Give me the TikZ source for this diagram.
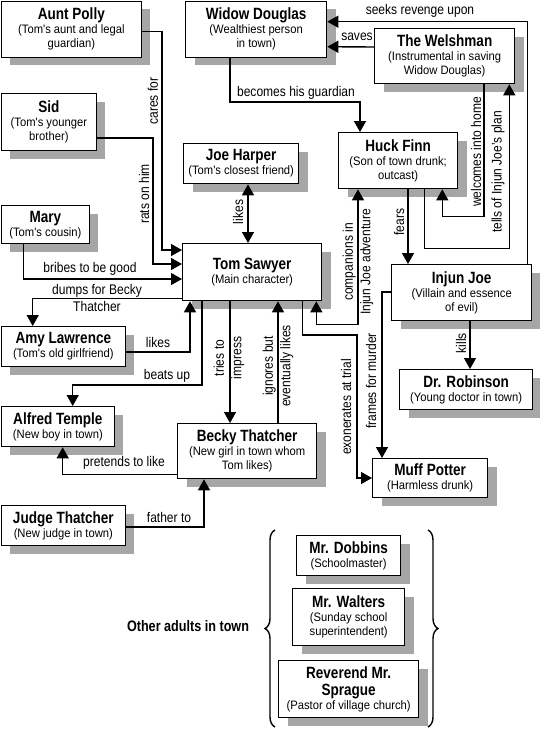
\documentclass[tikz,border=0pt]{standalone}
\usepackage{fontspec}
\setmainfont{Liberation Sans}[FakeStretch=0.86]
\newfontfamily\namefont{Liberation Sans}[FakeStretch=0.83]
\newfontfamily\notefont{Liberation Sans}[FakeStretch=0.92]
\usetikzlibrary{calc,arrows.meta,shadows,decorations.pathreplacing}

\newcommand{\who}[1]{{\namefont\fontsize{16.3}{18}\selectfont\bfseries #1}}

\tikzset{
  person/.style={draw, rectangle, line width=1.3pt, fill=white, anchor=north west, align=center,
    inner sep=2pt, font=\notefont\fontsize{12.2}{14}\selectfont,
    drop shadow={shadow xshift=9pt, shadow yshift=-8pt, fill=black!35, opacity=1}},
  rel/.style={font=\fontsize{14}{17.5}\selectfont, align=center, inner sep=0pt},
  vrel/.style={rel, rotate=90},
}

\begin{document}
\begin{tikzpicture}[x=1pt, y=-1pt, line width=1.4pt, >={Triangle[length=11pt,width=12pt]}]
\useasboundingbox (0,0) rectangle (540,729);

\node[person, minimum width=140pt, minimum height=56pt] (polly) at (0.7,0.7) {\who{Aunt Polly}\\(Tom's aunt and legal\\guardian)};
\node[person, minimum width=141pt, minimum height=56pt] (widow) at (185,0.7) {\who{Widow Douglas}\\(Wealthiest person\\in town)};
\node[person, minimum width=140pt, minimum height=55pt] (welsh) at (374,28) {\who{The Welshman}\\(Instrumental in saving\\Widow Douglas)};
\node[person, minimum width=95pt, minimum height=57pt] (sid) at (0.7,93) {\who{Sid}\\(Tom's younger\\brother)};
\node[person, minimum width=115pt, minimum height=40pt] (joe) at (183,143) {\who{Joe Harper}\\(Tom's closest friend)};
\node[person, minimum width=119pt, minimum height=56pt] (huck) at (338,132) {\who{Huck Finn}\\(Son of town drunk;\\outcast)};
\node[person, minimum width=88pt, minimum height=38pt] (mary) at (0.7,205) {\who{Mary}\\(Tom's cousin)};
\node[person, minimum width=139pt, minimum height=57pt] (tom) at (182,243) {\who{Tom Sawyer}\\(Main character)};
\node[person, minimum width=140pt, minimum height=56pt] (injun) at (391,264) {\who{Injun Joe}\\(Villain and essence\\of evil)};
\node[person, minimum width=124pt, minimum height=40pt] (amy) at (0.7,326) {\who{Amy Lawrence}\\(Tom's old girlfriend)};
\node[person, minimum width=133pt, minimum height=40pt] (robinson) at (399,369) {\who{Dr. Robinson}\\(Young doctor in town)};
\node[person, minimum width=113pt, minimum height=40pt] (alfred) at (0.7,406) {\who{Alfred Temple}\\(New boy in town)};
\node[person, minimum width=139pt, minimum height=55pt] (becky) at (177,423) {\who{Becky Thatcher}\\(New girl in town whom\\Tom likes)};
\node[person, minimum width=115pt, minimum height=39pt] (muff) at (372,458) {\who{Muff Potter}\\(Harmless drunk)};
\node[person, minimum width=124pt, minimum height=40pt] (judge) at (0.7,505) {\who{Judge Thatcher}\\(New judge in town)};
\node[person, minimum width=104pt, minimum height=40pt] (dobbins) at (296,535) {\who{Mr. Dobbins}\\(Schoolmaster)};
\node[person, minimum width=112pt, minimum height=57pt] (walters) at (292,588) {\who{Mr. Walters}\\(Sunday school\\superintendent)};
\node[person, minimum width=140pt, minimum height=57pt] (sprague) at (278,660) {\who{Reverend Mr.}\\[3pt]\who{Sprague}\\(Pastor of village church)};

\draw[->] ($(polly.north east)+(0,31)$) -| ($(tom.north west)+(-20,7)$) -- ($(tom.north west)+(0,7)$);
\draw[->] ($(sid.north east)+(0,45)$) -| ($(tom.north west)+(-29,21)$) -- ($(tom.north west)+(0,21)$);
\draw[->] ($(mary.south west)+(23,0)$) |- ($(tom.north west)+(0,36)$);
\draw[->] ($(tom.south west)+(0,-3)$) -| ($(amy.north west)+(32,0)$);
\draw[->] ($(amy.north east)+(0,26)$) -| ($(tom.south west)+(8,0)$);
\draw[->] ($(tom.south west)+(20,0)$) |- ($(alfred.north west)+(72,-21)$) -- ($(alfred.north west)+(72,0)$);
\draw[->] ($(tom.south west)+(48,0)$) -- ($(becky.north west)+(53,0)$);
\draw[->] ($(becky.north west)+(101,0)$) -- ($(tom.south west)+(96,0)$);
\draw[->] ($(tom.south east)+(-20,0)$) |- ($(muff.north west)+(-15,-123)$) |- ($(muff.north west)+(0,20)$);
\draw[<->] ($(huck.south west)+(20,0)$) |- ($(tom.south east)+(-6,23)$) -- ($(tom.south east)+(-6,0)$);
\draw[->] ($(widow.south west)+(45,0)$) |- ($(huck.north west)+(22,-30)$) -- ($(huck.north west)+(22,0)$);
\draw[->] ($(welsh.north west)+(0,19)$) -- ($(widow.north east)+(0,46)$);
\draw[->] ($(injun.north east)+(-5,0)$) |- ($(widow.north east)+(0,21)$);
\draw[->] ($(welsh.south west)+(110,0)$) |- ($(huck.south east)+(-16,27)$) -- ($(huck.south east)+(-16,0)$);
\draw[->] ($(huck.south east)+(-34,0)$) |- ($(welsh.south east)+(-6,164)$) -- ($(welsh.south east)+(-6,0)$);
\draw[->] ($(huck.south west)+(70,0)$) -- ($(injun.north west)+(17,0)$);
\draw[->] ($(injun.south west)+(79,0)$) -- ($(robinson.north west)+(71,0)$);
\draw[->] ($(injun.north west)+(0,28)$) -| ($(muff.north west)+(10,0)$);
\draw[->] ($(judge.north east)+(0,22)$) -| ($(becky.south west)+(27,0)$);
\draw[->] ($(becky.south west)+(0,-5)$) -| ($(alfred.south west)+(62,0)$);
\draw[<->] ($(joe.south west)+(65,0)$) -- ($(tom.north west)+(66,0)$);

\node[vrel] (caresfor) at (153,101) {cares for};
\node[vrel] (rats) at (144,194) {rats on him};
\node[rel] (bribes) at (90,269) {bribes to be good};
\node[rel] (dumps) at (97,298) {dumps for Becky\\Thatcher};
\node[rel] (likesamy) at (158,342) {likes};
\node[rel] (beats) at (167,376) {beats up};
\node[vrel] (impress) at (229,358) {tries to\\impress};
\node[vrel] (ignores) at (278,366) {ignores but\\eventually likes};
\node[vrel] (exonerates) at (346,407) {exonerates at trial};
\node[vrel] (companions) at (358,262) {companions in\\Injun Joe adventure};
\node[rel] (guardian) at (296,93) {becomes his guardian};
\node[rel] (saves) at (357,37) {saves};
\node[rel] (revenge) at (420,11) {seeks revenge upon};
\node[vrel] (welcomes) at (476,152) {welcomes into home};
\node[vrel] (tells) at (498,172) {tells of Injun Joe's plan};
\node[vrel] (fears) at (399,222) {fears};
\node[vrel] (kills) at (461,343) {kills};
\node[vrel] (frames) at (371,381) {frames for murder};
\node[rel] (father) at (169,517) {father to};
\node[rel] (pretends) at (124,463) {pretends to like};
\node[vrel] (likesjoe) at (238,212) {likes};

\node[font=\namefont\fontsize{15.2}{17}\selectfont\bfseries] (others) at (188,626) {Other adults in town};
\draw[decorate, decoration={brace, amplitude=10pt}] (275,727) -- (275,530);
\draw[decorate, decoration={brace, amplitude=10pt}] (428,530) -- (428,727);
\end{tikzpicture}
\end{document}
